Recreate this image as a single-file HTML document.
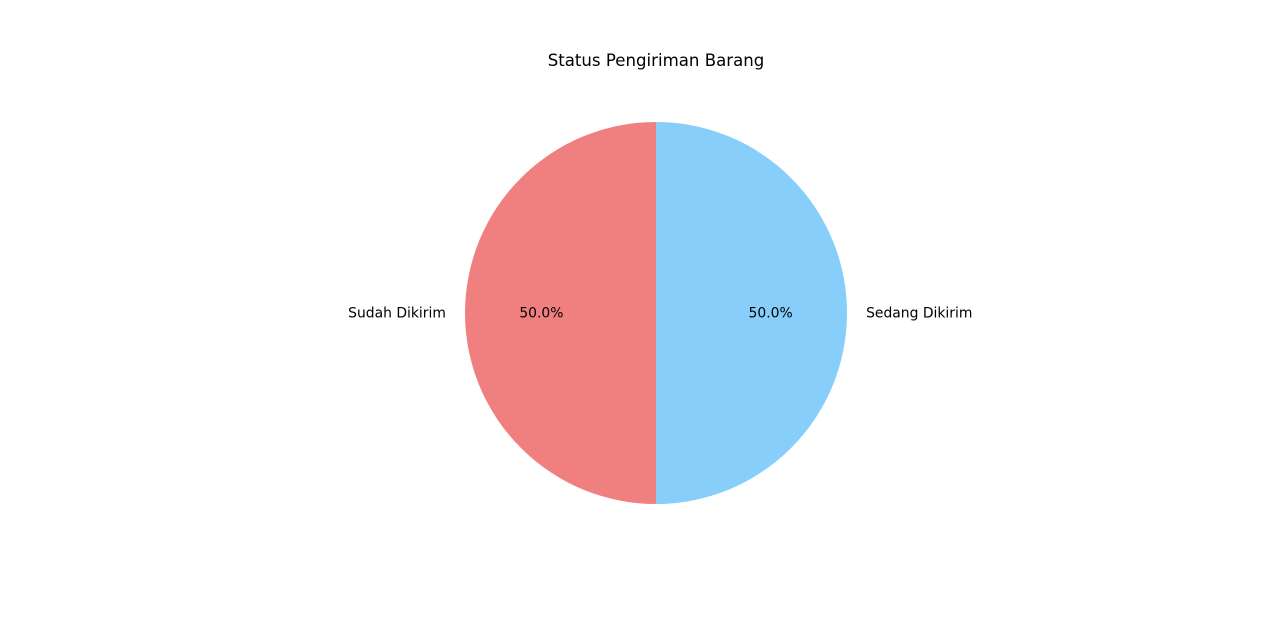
<!DOCTYPE html>
<html>
<head>
<meta charset="utf-8">
<style>
html,body{margin:0;padding:0;background:#fff;}
svg{display:block;font-family:"DejaVu Sans","Liberation Sans",sans-serif;}
</style>
</head>
<body>
<svg id="chart" width="1280" height="620" viewBox="0 0 1280 620">
  <text x="656" y="66" text-anchor="middle" font-size="16.6" fill="#000">Status Pengiriman Barang</text>
  <g id="slices"></g>
</svg>
<script>
const categories = ["Sudah Dikirim", "Sedang Dikirim"];
const values = [50, 50];
const colors = ["#F08080", "#87CEFA"];

const cx = 656, cy = 313, r = 191;
const svgNS = "http://www.w3.org/2000/svg";
const g = document.getElementById("slices");
const total = values.reduce((a, b) => a + b, 0);
let start = 90;
function pt(deg, rad) {
  const a = deg * Math.PI / 180;
  return [cx + rad * Math.cos(a), cy - rad * Math.sin(a)];
}
values.forEach((v, i) => {
  const sweep = v / total * 360;
  const end = start + sweep;
  const [x1, y1] = pt(start, r);
  const [x2, y2] = pt(end, r);
  const large = sweep > 180 ? 1 : 0;
  const path = document.createElementNS(svgNS, "path");
  path.setAttribute("d", `M${cx},${cy} L${x1},${y1} A${r},${r} 0 ${large} 0 ${x2},${y2} Z`);
  path.setAttribute("fill", colors[i]);
  
  
  g.appendChild(path);

  const mid = start + sweep / 2;
  const cosm = Math.cos(mid * Math.PI / 180);
  const [lx, ly] = pt(mid, r * 1.1);
  const label = document.createElementNS(svgNS, "text");
  label.setAttribute("x", lx);
  label.setAttribute("y", ly + 4.5);
  label.setAttribute("font-size", "13.9");
  label.setAttribute("text-anchor", cosm < -0.01 ? "end" : (cosm > 0.01 ? "start" : "middle"));
  label.textContent = categories[i];
  
  
  g.appendChild(label);

  const [px, py] = pt(mid, r * 0.6);
  const pct = document.createElementNS(svgNS, "text");
  pct.setAttribute("x", px);
  pct.setAttribute("y", py + 4.5);
  pct.setAttribute("font-size", "13.9");
  pct.setAttribute("text-anchor", "middle");
  pct.textContent = (v / total * 100).toFixed(1) + "%";
  
  
  g.appendChild(pct);

  start = end;
});
</script>
</body>
</html>
